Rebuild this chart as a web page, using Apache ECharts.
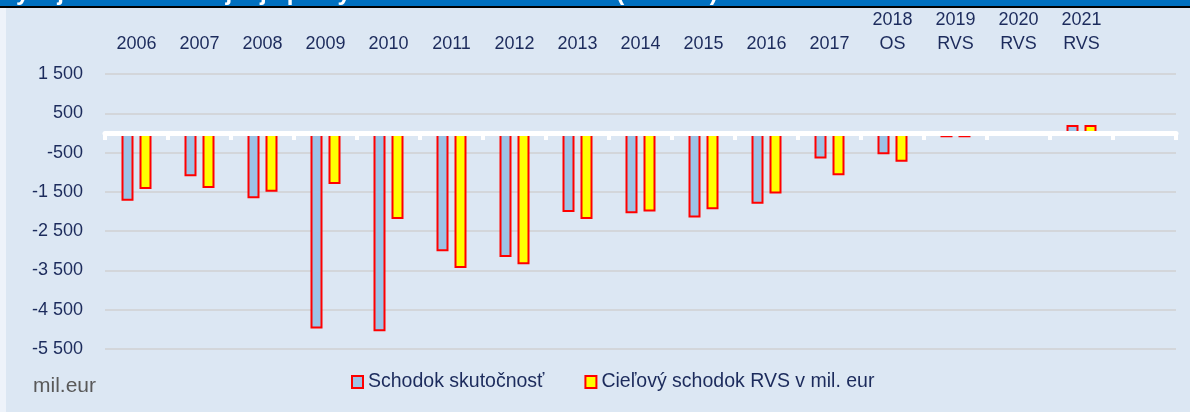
<!DOCTYPE html>
<html>
<head>
<meta charset="utf-8">
<script src="https://cdn.jsdelivr.net/npm/echarts@6/dist/echarts.min.js"></script>
<style>
  html, body { margin: 0; padding: 0; background: #dce7f3; }
  #chart { width: 1190px; height: 412px; }
</style>
</head>
<body>
<div id="chart"></div>
<script>
// roky (posledná kategória je prázdna, ako v origináli)
const categories = ['2006', '2007', '2008', '2009', '2010', '2011', '2012', '2013', '2014', '2015',
  '2016', '2017', '2018\nOS', '2019\nRVS', '2020\nRVS', '2021\nRVS', '']
// schodok skutočnosť (mil. eur)
const actualDeficit = [-1725, -1105, -1660, -4975, -5050, -3010, -3160, -2010, -2045, -2150,
  -1800, -650, -540, -110, 0, 200]
// cieľový schodok RVS (mil. eur)
const targetDeficit = [-1425, -1400, -1495, -1300, -2190, -3440, -3340, -2190, -2000, -1940,
  -1540, -1075, -735, -110, 0, 200]
const seriesNames = ['Schodok skutočnosť', 'Cieľový schodok RVS v mil. eur']
const titleText = 'Vývoj schodku verejnej správy v rokoch 2006 až 2021 (mil. eur)'

const navy = '#1c2b5c'
const font = 'Liberation Sans, Arial, sans-serif'

const chart = echarts.init(document.getElementById('chart'))

const option = {
  backgroundColor: '#dce7f3',
  textStyle: { fontFamily: font },
  graphic: [
    { type: 'rect', left: 0, top: 0, shape: { width: 6, height: 412 }, style: { fill: '#eef3fa' } },
    { type: 'rect', left: 0, top: 0, shape: { width: 1190, height: 7 }, style: { fill: '#0070c0' } },
    { type: 'text', left: 0, top: -19, style: { text: titleText, fill: '#ffffff', font: 'bold 24px ' + font } },
    { type: 'rect', left: 0, top: 6, shape: { width: 1190, height: 2 }, style: { fill: '#000000' } },
    { type: 'text', left: 33, top: 376, style: { text: 'mil.eur', fill: '#595959', font: '21px ' + font } }
  ],
  legend: {
    left: 346,
    top: 367,
    itemWidth: 11,
    itemHeight: 12,
    itemGap: 40,
    icon: 'rect',
    textStyle: { color: navy, fontSize: 19.5, fontFamily: font },
    data: seriesNames
  },
  grid: {
    left: 105,
    right: 14,
    top: 74,
    bottom: 63,
    containLabel: false
  },
  xAxis: [
    {
      type: 'category',
      data: categories,
      z: 10,
      axisLine: { onZero: true, lineStyle: { color: '#ffffff', width: 5 } },
      axisTick: { show: true, length: 7, lineStyle: { color: '#ffffff', width: 4 } },
      axisLabel: { show: false }
    },
    {
      type: 'category',
      position: 'top',
      data: categories,
      axisLine: { show: false },
      axisTick: { show: false },
      axisLabel: {
        color: navy,
        fontSize: 18,
        fontFamily: font,
        lineHeight: 24,
        margin: 18,
        interval: 0
      }
    }
  ],
  yAxis: {
    type: 'value',
    min: -5500,
    max: 1500,
    interval: 1000,
    axisLine: { show: false },
    axisTick: { show: false },
    splitLine: { lineStyle: { color: '#d3d6da', width: 2 } },
    axisLabel: {
      color: navy,
      fontSize: 18,
      fontFamily: font,
      margin: 22,
      formatter: v => {
        const s = Math.abs(v).toString().replace(/\B(?=(\d{3})+(?!\d))/g, ' ')
        return (v < 0 ? '-' : '') + s
      }
    }
  },
  series: [
    {
      name: seriesNames[0],
      type: 'bar',
      xAxisIndex: 0,
      data: actualDeficit,
      barWidth: 12,
      barGap: '50%',
      itemStyle: { color: '#9dc3e6', borderColor: '#ff0000', borderWidth: 2 }
    },
    {
      name: seriesNames[1],
      type: 'bar',
      xAxisIndex: 0,
      data: targetDeficit,
      barWidth: 12,
      itemStyle: { color: '#ffff00', borderColor: '#ff0000', borderWidth: 2 }
    }
  ]
}

chart.setOption(option)
</script>
</body>
</html>
